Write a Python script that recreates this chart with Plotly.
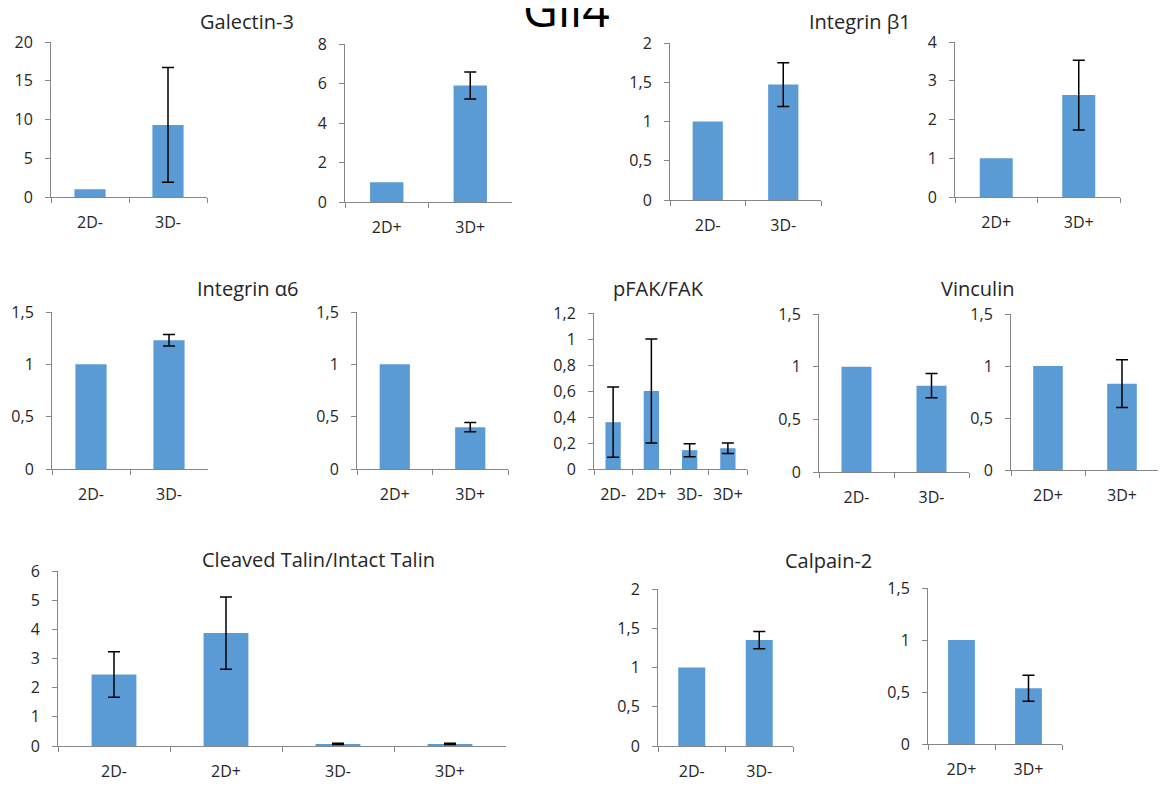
import plotly.graph_objects as go

W, H = 1166, 787
PAGE_MARGIN = 8  # default body margin of the html page
FW, FH = W - PAGE_MARGIN, H - PAGE_MARGIN
BAR_COLOR = "#5B9BD5"
AXIS_COLOR = "#868686"
TEXT_COLOR = "#262626"
FONT = "Open Sans"

# ---- data ----
galectin3_minus_cats = ["2D-", "3D-"]
galectin3_minus_vals = [1.0, 9.3]
galectin3_minus_err = [None, 7.4]

galectin3_plus_cats = ["2D+", "3D+"]
galectin3_plus_vals = [1.0, 5.9]
galectin3_plus_err = [None, 0.68]

itgb1_minus_cats = ["2D-", "3D-"]
itgb1_minus_vals = [1.0, 1.47]
itgb1_minus_err = [None, 0.28]

itgb1_plus_cats = ["2D+", "3D+"]
itgb1_plus_vals = [1.0, 2.63]
itgb1_plus_err = [None, 0.9]

itga6_minus_cats = ["2D-", "3D-"]
itga6_minus_vals = [1.0, 1.23]
itga6_minus_err = [None, 0.055]

itga6_plus_cats = ["2D+", "3D+"]
itga6_plus_vals = [1.0, 0.4]
itga6_plus_err = [None, 0.045]

pfak_cats = ["2D-", "2D+", "3D-", "3D+"]
pfak_vals = [0.36, 0.6, 0.145, 0.16]
pfak_err = [0.27, 0.4, 0.05, 0.04]

vinculin_minus_cats = ["2D-", "3D-"]
vinculin_minus_vals = [1.0, 0.82]
vinculin_minus_err = [None, 0.115]

vinculin_plus_cats = ["2D+", "3D+"]
vinculin_plus_vals = [1.0, 0.83]
vinculin_plus_err = [None, 0.23]

talin_cats = ["2D-", "2D+", "3D-", "3D+"]
talin_vals = [2.45, 3.87, 0.07, 0.07]
talin_err = [0.78, 1.24, 0.02, 0.02]

calpain2_minus_cats = ["2D-", "3D-"]
calpain2_minus_vals = [1.0, 1.35]
calpain2_minus_err = [None, 0.11]

calpain2_plus_cats = ["2D+", "3D+"]
calpain2_plus_vals = [1.0, 0.535]
calpain2_plus_err = [None, 0.125]

# (cats, vals, err, ymax, dtick, pixel box x0, x1, ytop, ybottom)
panels = [
    (galectin3_minus_cats, galectin3_minus_vals, galectin3_minus_err, 20, 5, 51, 207, 42, 197),
    (galectin3_plus_cats, galectin3_plus_vals, galectin3_plus_err, 8, 2, 345, 512, 44, 202),
    (itgb1_minus_cats, itgb1_minus_vals, itgb1_minus_err, 2, 0.5, 670, 821, 43, 200),
    (itgb1_plus_cats, itgb1_plus_vals, itgb1_plus_err, 4, 1, 955, 1120, 42, 197),
    (itga6_minus_cats, itga6_minus_vals, itga6_minus_err, 1.5, 0.5, 52, 208, 312, 469),
    (itga6_plus_cats, itga6_plus_vals, itga6_plus_err, 1.5, 0.5, 357, 508, 312, 469),
    (pfak_cats, pfak_vals, pfak_err, 1.2, 0.2, 594, 747, 313, 469),
    (vinculin_minus_cats, vinculin_minus_vals, vinculin_minus_err, 1.5, 0.5, 819, 969, 314, 472),
    (vinculin_plus_cats, vinculin_plus_vals, vinculin_plus_err, 1.5, 0.5, 1011, 1159, 314, 470),
    (talin_cats, talin_vals, talin_err, 6, 1, 58, 506, 571, 746),
    (calpain2_minus_cats, calpain2_minus_vals, calpain2_minus_err, 2, 0.5, 658, 793, 589, 746),
    (calpain2_plus_cats, calpain2_plus_vals, calpain2_plus_err, 1.5, 0.5, 928, 1062, 588, 744),
]

# (text, x center px, y middle px, size)
titles = [
    ("Gli4", 566, 8, 48),
    ("Galectin-3", 247, 21.5, 20),
    ("Integrin β1", 860, 22, 20),
    ("Integrin α6", 247, 288, 20),
    ("pFAK/FAK", 658, 288.5, 20),
    ("Vinculin", 977, 288, 20),
    ("Cleaved Talin/Intact Talin", 318, 559, 20),
    ("Calpain-2", 828, 560, 20),
]


def px_x(v):
    return (v - PAGE_MARGIN) / FW


def px_y(v):
    return 1 - (v - PAGE_MARGIN) / FH


fig = go.Figure()
layout = {}
for i, (cats, vals, err, ymax, dtick, x0, x1, yt, yb) in enumerate(panels, start=1):
    sfx = "" if i == 1 else str(i)
    fig.add_trace(go.Bar(
        x=cats, y=vals,
        marker=dict(color=BAR_COLOR, line=dict(width=0)),
        width=0.4,
        xaxis="x" + sfx, yaxis="y" + sfx,
        showlegend=False, hoverinfo="skip",
    ))
    # error bars only where the picture shows them
    ex = [c for c, e in zip(cats, err) if e is not None]
    ey = [v for v, e in zip(vals, err) if e is not None]
    ee = [e for e in err if e is not None]
    fig.add_trace(go.Scatter(
        x=ex, y=ey, mode="markers",
        marker=dict(size=1, opacity=0),
        error_y=dict(type="data", array=ee, visible=True, color="black", thickness=1.5, width=6),
        xaxis="x" + sfx, yaxis="y" + sfx,
        showlegend=False,
    ))
    layout["xaxis" + sfx] = dict(
        domain=[px_x(x0), px_x(x1)], anchor="y" + sfx, type="category",
        categoryorder="array", categoryarray=cats,
        range=[-0.5, len(cats) - 0.5], tickson="boundaries", tickangle=0,
        showline=True, linecolor=AXIS_COLOR, linewidth=1,
        ticks="outside", ticklen=5, tickcolor=AXIS_COLOR,
        showgrid=False, zeroline=False, ticklabelstandoff=11, automargin=False,
        tickfont=dict(family=FONT, size=16, color=TEXT_COLOR),
    )
    layout["yaxis" + sfx] = dict(
        domain=[px_y(yb), px_y(yt)], anchor="x" + sfx,
        range=[0, ymax], dtick=dtick, tick0=0,
        showline=True, linecolor=AXIS_COLOR, linewidth=1,
        ticks="outside", ticklen=5, tickcolor=AXIS_COLOR,
        showgrid=False, zeroline=False, ticklabelstandoff=9, automargin=False,
        tickfont=dict(family=FONT, size=16, color=TEXT_COLOR),
    )

annotations = [
    dict(text=t, x=px_x(xc), y=px_y(ym), xref="paper", yref="paper",
         xanchor="center", yanchor="middle", showarrow=False,
         font=dict(family=FONT, size=s, color="black" if s > 30 else TEXT_COLOR))
    for t, xc, ym, s in titles
]

fig.update_layout(
    **layout,
    template="none",
    annotations=annotations,
    width=FW, height=FH,
    margin=dict(l=0, r=0, t=0, b=0, pad=0),
    paper_bgcolor="white", plot_bgcolor="white",
    separators=",.",
    showlegend=False,
)

fig.write_html("out.html")
